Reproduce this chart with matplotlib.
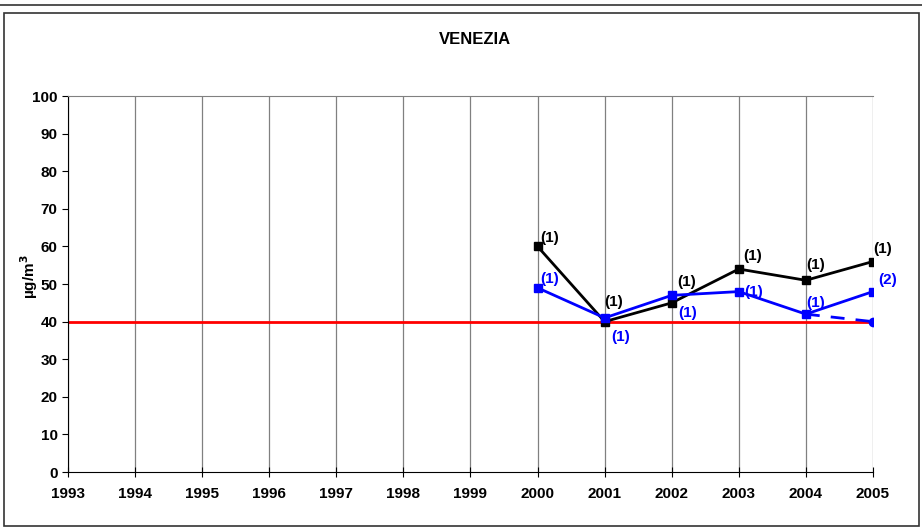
import matplotlib
matplotlib.use("Agg")
import matplotlib.pyplot as plt
from matplotlib.patches import Rectangle

years = list(range(1993, 2006))
black_years = [2000, 2001, 2002, 2003, 2004, 2005]
black_vals = [60, 40, 45, 54, 51, 56]
black_labels = ["(1)", "(1)", "(1)", "(1)", "(1)", "(1)"]
blue_years = [2000, 2001, 2002, 2003, 2004, 2005]
blue_vals = [49, 41, 47, 48, 42, 48]
blue_labels = ["(1)", "(1)", "(1)", "(1)", "(1)", "(2)"]
dash_years = [2004, 2005]
dash_vals = [42, 40]
limit = 40

plt.rcParams['font.family'] = ['Liberation Sans', 'DejaVu Sans']
plt.rcParams['font.weight'] = 'bold'
plt.rcParams['mathtext.default'] = 'bf'

fig = plt.figure(figsize=(9.22, 5.28), dpi=100)
# outer frames
fig.patches.append(Rectangle((0.004, 0.004), 0.993, 0.972, transform=fig.transFigure,
                             fill=False, edgecolor='#333333', lw=1.2))
fig.patches.append(Rectangle((-0.01, 0.99), 1.02, 0.05, transform=fig.transFigure,
                             fill=False, edgecolor='#333333', lw=1.2))

ax = fig.add_axes([0.0738, 0.106, 0.873, 0.712])
ax.set_xlim(1993, 2005)
ax.set_ylim(0, 100)

for y in years:
    ax.axvline(y, color='#808080', lw=0.9, zorder=0)

ax.axhline(limit, color='#ff0000', lw=2, zorder=1)
ax.plot(dash_years, dash_vals, color='#0000ff', lw=2, ls=(0, (5, 4)), zorder=2)
ax.plot(dash_years[-1:], dash_vals[-1:], 'o', color='#0000ff', ms=6, zorder=3)
ax.plot(black_years, black_vals, color='black', lw=2, marker='s', ms=6, zorder=3)
ax.plot(blue_years, blue_vals, color='#0000ff', lw=2, marker='s', ms=6, zorder=4)

black_off = [(2, 1), (0, 9), (4, 10), (3, 4), (0, 6), (0, 4)]
blue_off = [(2, 1), (5, -19), (5, -18), (4, -5), (0, 3), (4, 3)]
for x, v, t, o in zip(black_years, black_vals, black_labels, black_off):
    ax.annotate(t, (x, v), xytext=o, textcoords='offset points', fontsize=11,
                fontweight='bold', color='black', ha='left', va='bottom')
for x, v, t, o in zip(blue_years, blue_vals, blue_labels, blue_off):
    ax.annotate(t, (x, v), xytext=o, textcoords='offset points', fontsize=11,
                fontweight='bold', color='#0000ff', ha='left', va='bottom')

ax.set_xticks(years)
ax.set_yticks(range(0, 101, 10))
ax.tick_params(axis='both', labelsize=11, direction='out', length=4)
ax.tick_params(axis='x', direction='inout', length=7, pad=7)
for lab in ax.get_xticklabels() + ax.get_yticklabels():
    lab.set_fontweight('bold')
ax.spines['right'].set_visible(False)
ax.spines['top'].set_color('#808080')
ax.set_ylabel('µg/m$^3$', fontsize=11, fontweight='bold')
ax.yaxis.set_label_coords(-0.035, 0.52)
fig.text(0.515, 0.925, 'VENEZIA', ha='center', va='center', fontsize=12, fontweight='bold')

fig.savefig('out.png', dpi=100)
